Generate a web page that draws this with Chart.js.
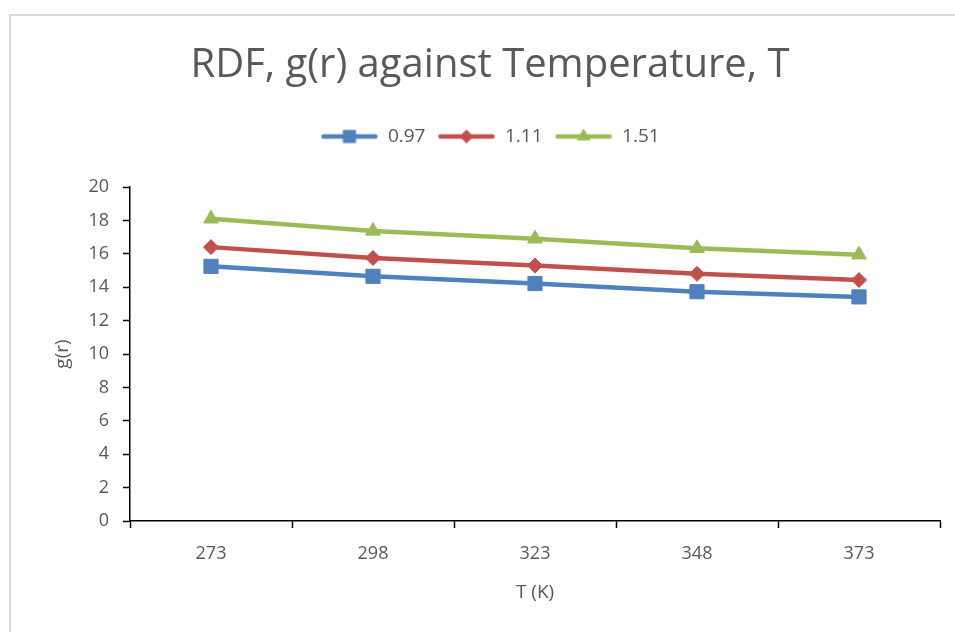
<!DOCTYPE html>
<html>
<head>
<meta charset="utf-8">
<script src="https://cdn.jsdelivr.net/npm/chart.js@4.4.1/dist/chart.umd.min.js"></script>
<style>
  html, body { margin: 0; padding: 0; background: #fff; }
  #wrap { position: relative; width: 955px; height: 632px; overflow: hidden; }
  #frame { position: absolute; left: 9px; top: 14px; right: -5px; bottom: -5px;
           border-top: 2px solid #d9d9d9; border-left: 2px solid #d9d9d9; }
  #c { position: absolute; left: 0; top: 0; }
</style>
</head>
<body>
<div id="wrap">
  <div id="frame"></div>
  <canvas id="c" width="955" height="632"></canvas>
</div>
<script>
// Data
const temps = ['273', '298', '323', '348', '373'];
const seriesNames = ['0.97', '1.11', '1.51'];
const g097 = [15.25, 14.65, 14.22, 13.73, 13.42];
const g111 = [16.40, 15.75, 15.30, 14.80, 14.43];
const g151 = [18.10, 17.37, 16.90, 16.33, 15.95];
const yTicks = { min: 0, max: 20, step: 2 };

const FONT = "'Open Sans', sans-serif";
const TEXT = '#595959';
const colors = ['#4F81BD', '#C0504D', '#9BBB59'];
const markers = ['rect', 'rectRot', 'triangle'];
const markerSize = [10, 7.5, 8.5];

// small line+marker picture for the legend
const legendIcon = (color, style, r) => {
    const cv = document.createElement('canvas');
    cv.width = 58;
    cv.height = 20;
    const ctx = cv.getContext('2d');
    ctx.strokeStyle = color;
    ctx.lineWidth = 4.5;
    ctx.lineCap = 'round';
    ctx.beginPath();
    ctx.moveTo(3, 10);
    ctx.lineTo(55, 10);
    ctx.stroke();
    ctx.fillStyle = color;
    Chart.helpers.drawPoint(ctx, { pointStyle: style, radius: r, rotation: 0, borderWidth: 0 }, 29, 10);
    ctx.fill();
    return cv;
};

// push the plot area down below the legend
const legendGap = {
    id: 'legendGap',
    beforeInit(chart) {
        const lg = chart.legend;
        const fit = lg.fit;
        lg.fit = function () {
            fit.call(this);
            this.height += 31;
        };
    }
};

const makeSet = (i, data) => ({
    label: seriesNames[i],
    data: data,
    borderColor: colors[i],
    backgroundColor: colors[i],
    borderWidth: 4.5,
    pointStyle: markers[i],
    pointRadius: markerSize[i],
    pointHoverRadius: markerSize[i],
    pointBorderWidth: 1,
    tension: 0
});

const ctx = document.getElementById('c').getContext('2d');

new Chart(ctx, {
    type: 'line',
    data: {
        labels: temps,
        datasets: [makeSet(0, g097), makeSet(1, g111), makeSet(2, g151)]
    },
    plugins: [legendGap],
    options: {
        responsive: false,
        animation: false,
        layout: { padding: { left: 40, right: 15, top: 0, bottom: 0 } },
        plugins: {
            title: {
                display: true,
                text: 'RDF, g(r) against Temperature, T',
                color: TEXT,
                font: { family: FONT, size: 40, weight: 'normal' },
                padding: { top: 42, bottom: 25 }
            },
            legend: {
                display: true,
                position: 'top',
                labels: {
                    color: TEXT,
                    font: { family: FONT, size: 19 },
                    usePointStyle: true,
                    pointStyleWidth: 58,
                    padding: 12,
                    generateLabels: (chart) => {
                        const items = Chart.defaults.plugins.legend.labels.generateLabels(chart);
                        items.forEach((it, i) => {
                            it.pointStyle = legendIcon(colors[i], markers[i], markerSize[i] * 0.9);
                        });
                        return items;
                    }
                }
            },
            tooltip: { enabled: false }
        },
        scales: {
            x: {
                offset: true,
                grid: { display: true, offset: true, drawOnChartArea: false, drawTicks: true,
                        tickLength: 7, tickColor: '#000', tickWidth: 1.5 },
                border: { color: '#000', width: 1.5 },
                ticks: { color: TEXT, font: { family: FONT, size: 18 }, padding: 15 },
                title: { display: true, text: 'T (K)', color: TEXT,
                         font: { family: FONT, size: 19 }, padding: { top: 0, bottom: 28 } },
                afterFit: (s) => { s.height = 111; }
            },
            y: {
                min: yTicks.min,
                max: yTicks.max,
                grid: { display: true, drawOnChartArea: false, drawTicks: true,
                        tickLength: 7, tickColor: '#000', tickWidth: 1.5 },
                border: { color: '#000', width: 1.5 },
                ticks: { stepSize: yTicks.step, color: TEXT, font: { family: FONT, size: 18 }, padding: 14 },
                title: { display: true, text: 'g(r)', color: TEXT,
                         font: { family: FONT, size: 19 }, padding: { top: 11, bottom: 0 } },
                afterFit: (s) => { s.width = 90; }
            }
        }
    }
});
</script>
</body>
</html>
